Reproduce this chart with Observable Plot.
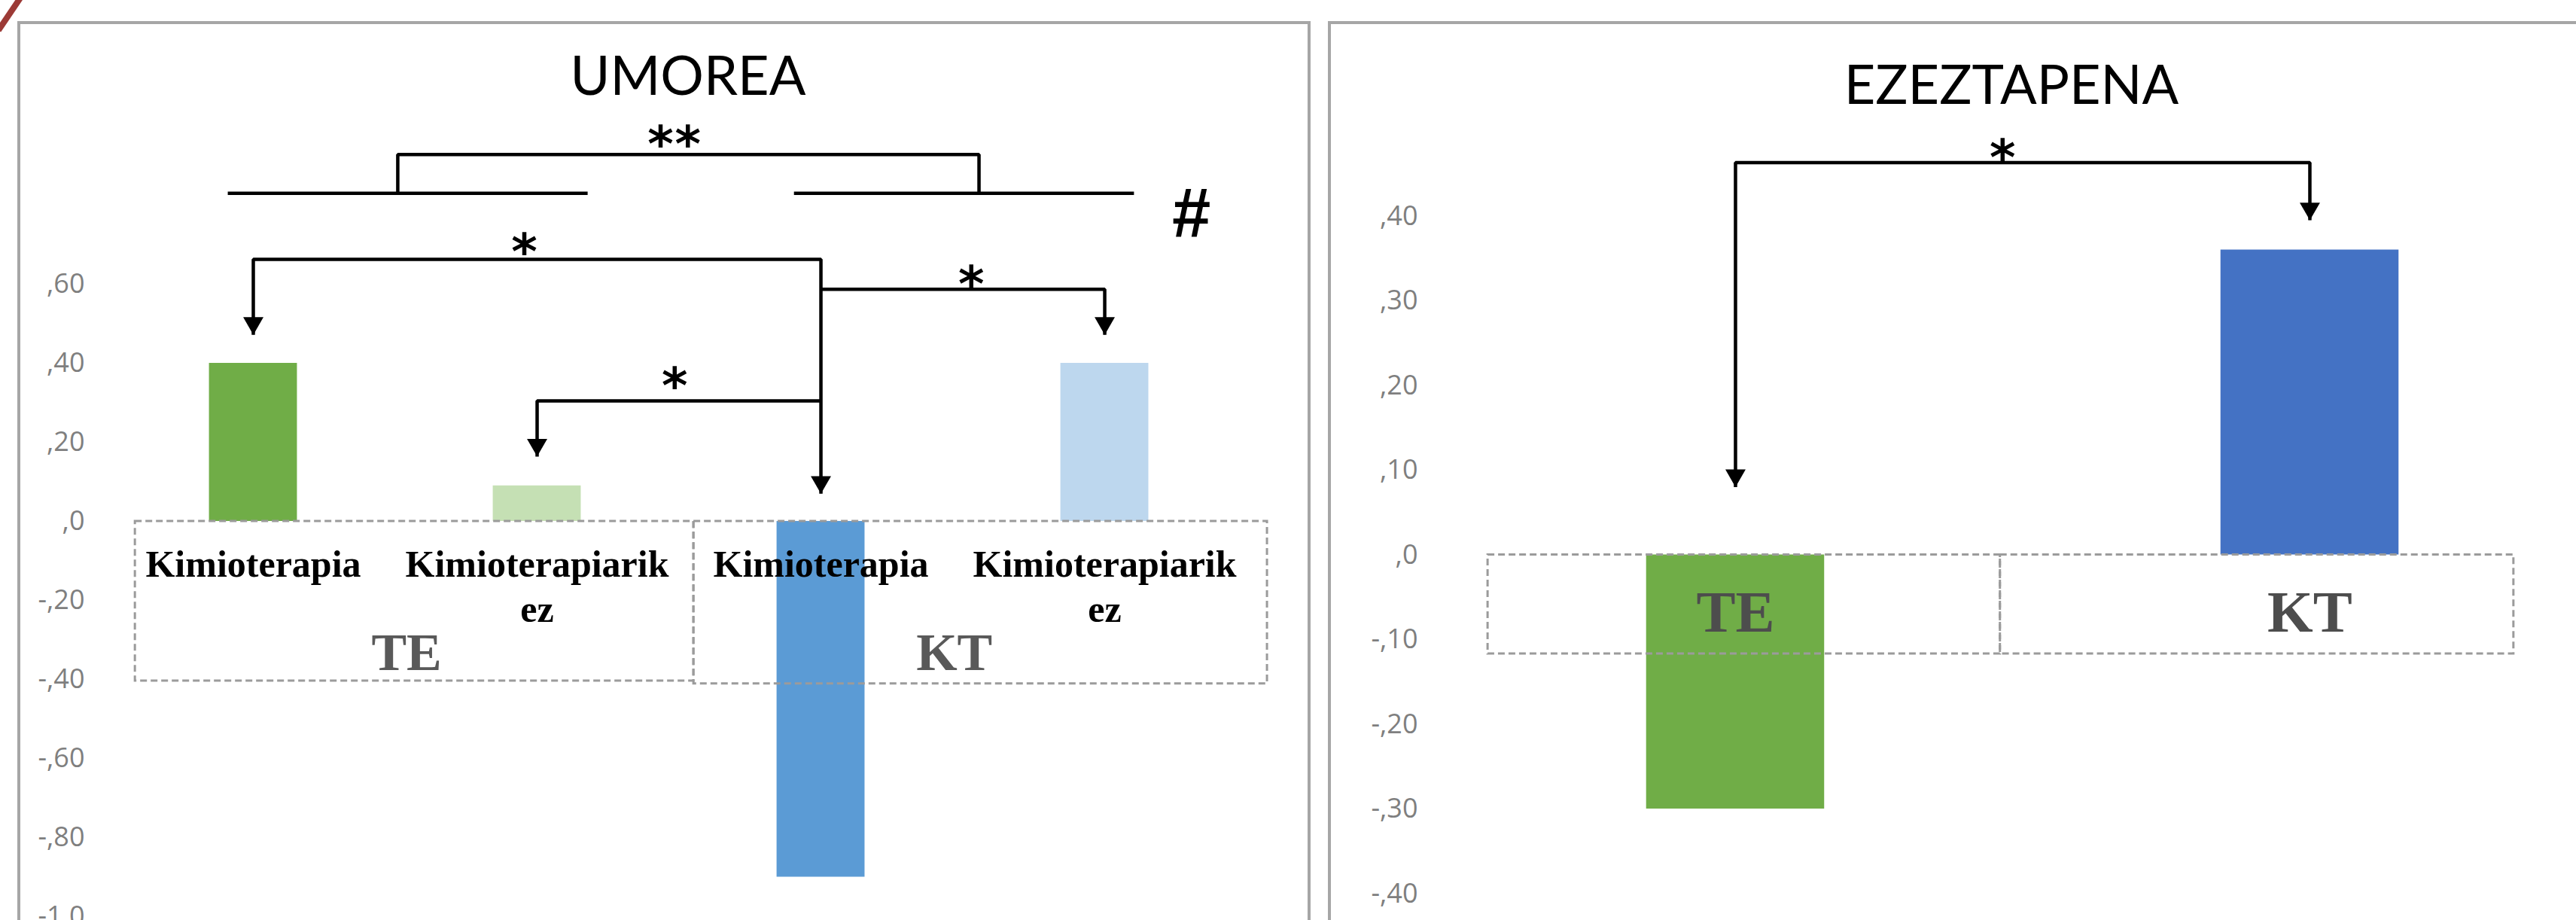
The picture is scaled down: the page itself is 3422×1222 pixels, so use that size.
<!DOCTYPE html>
<html><head><meta charset="utf-8">
<script src="https://cdn.jsdelivr.net/npm/d3@7"></script>
<script src="https://cdn.jsdelivr.net/npm/@observablehq/plot@0.6"></script>
<style>
html,body{margin:0;padding:0;background:#fff;}
#page{position:relative;width:3422px;height:1222px;overflow:hidden;background:#fff;}
.panel{position:absolute;box-sizing:border-box;border:4px solid #a6a6a6;background:#fff;}
.title{position:absolute;font-family:Lato,sans-serif;font-size:72px;line-height:72px;color:#000;white-space:nowrap;transform:translateX(-50%);}
.chart{position:absolute;}
#corner{position:absolute;left:-14px;top:14px;width:54px;height:8px;background:#9c3a36;transform:rotate(-56deg);}
</style></head>
<body><div id="page">
<div class="panel" style="left:23px;top:28px;width:1718px;height:1300px"></div>
<div class="panel" style="left:1764px;top:28px;width:1700px;height:1300px"></div>
<div id="corner"></div>
<div class="title" style="left:914px;top:62px">UMOREA</div>
<div class="title" style="left:2672px;top:74px">EZEZTAPENA</div>
<div class="chart" id="left" style="left:0;top:150px"></div>
<div class="chart" id="right" style="left:1740px;top:150px"></div>
</div>
<script>
// ---- data: UMOREA ----
const umoreaCategories = ["Kimioterapia", "Kimioterapiarik ez", "Kimioterapia", "Kimioterapiarik ez"];
const umoreaGroups = ["TE", "TE", "KT", "KT"];
const umoreaValues = [0.40, 0.09, -0.90, 0.40];
const umoreaColors = ["#70ad47", "#c5e0b4", "#5b9bd5", "#bdd7ee"];
const umoreaTicks = [0.6, 0.4, 0.2, 0, -0.2, -0.4, -0.6, -0.8, -1.0];

// ---- data: EZEZTAPENA ----
const ezCategories = ["TE", "KT"];
const ezValues = [-0.30, 0.36];
const ezColors = ["#70ad47", "#4472c4"];
const ezTicks = [0.4, 0.3, 0.2, 0.1, 0, -0.1, -0.2, -0.3, -0.4];

// ---- annotations (x in category index units, y in value units) ----
const umoreaBoxes = [
  {group: "TE", x1: 0.584, x2: 2.552, y1: 0, y2: -0.404},
  {group: "KT", x1: 2.552, x2: 4.573, y1: 0, y2: -0.411}
];
const umoreaGroupLabels = [{text: "TE", x: 1.54}, {text: "KT", x: 3.47}];
const umoreaPaths = [
  {id: "a1", pts: [[1, 0.472], [1, 0.663], [3, 0.663], [3, 0.070]]},
  {id: "a2", pts: [[3, 0.587], [4, 0.587], [4, 0.472]]},
  {id: "a3", pts: [[3, 0.305], [2, 0.305], [2, 0.164]]},
  {id: "b0", pts: [[1.509, 0.830], [1.509, 0.928], [3.557, 0.928], [3.557, 0.830]]},
  {id: "b1", pts: [[0.910, 0.830], [2.178, 0.830]]},
  {id: "b2", pts: [[2.905, 0.830], [4.103, 0.830]]}
];
const umoreaHeads = [[1, 0.472], [3, 0.070], [4, 0.472], [2, 0.164]];
const umoreaStars = [
  {t: "*", x: 1.955, y: 0.712}, {t: "*", x: 3.530, y: 0.630}, {t: "*", x: 2.485, y: 0.373},
  {t: "*", x: 2.435, y: 0.985}, {t: "*", x: 2.531, y: 0.985}
];
const umoreaHash = [{t: "#", x: 4.302, y: 0.785}];

const ezBoxes = [
  {group: "TE", x1: 0.569, x2: 1.461, y1: 0, y2: -0.117},
  {group: "KT", x1: 1.461, x2: 2.355, y1: 0, y2: -0.117}
];
const ezPaths = [{id: "e1", pts: [[1, 0.080], [1, 0.463], [2, 0.463], [2, 0.395]]}];
const ezHeads = [[1, 0.080], [2, 0.395]];
const ezStars = [{t: "*", x: 1.465, y: 0.483}];

// ---- helpers ----
const fmt = d => {
  if (Math.abs(d) < 1e-9) return ",0";
  const a = Math.abs(d);
  const s = a >= 1 ? a.toFixed(1).replace(".", ",") : "," + a.toFixed(2).slice(2);
  return (d < 0 ? "-" : "") + s;
};
const flat = paths => paths.flatMap(p => p.pts.map(([x, y]) => ({id: p.id, x, y})));
const headPts = hs => hs.map(([x, y]) => ({x, y}));
const BW = 0.155;
const serif = "'Liberation Serif', 'Times New Roman', serif";
const common = {
  marginTop: 0, marginBottom: 0, marginRight: 0,
  color: {type: "identity"},
  style: {background: "transparent", color: "#7f7f7f", fontFamily: "'Open Sans', sans-serif", fontSize: "36px", overflow: "visible"}
};
const annotationMarks = (paths, heads, stars) => [
  Plot.line(flat(paths), {x: "x", y: "y", z: "id", stroke: "#000", strokeWidth: 4.5, strokeLinejoin: "miter", strokeLinecap: "butt"}),
  Plot.dot(headPts(heads), {x: "x", y: "y", symbol: "triangle", r: 10, fill: "#000", stroke: "none", rotate: 180, dy: -15.6}),
  Plot.text(stars, {x: "x", y: "y", text: "t", fontSize: 66, fontWeight: "bold", fontFamily: "'DejaVu Sans', sans-serif", fill: "#000", dy: 17})
];

// ---- left chart ----
const leftData = umoreaCategories.map((c, i) => ({pos: i + 1, label: c, group: umoreaGroups[i], value: umoreaValues[i], color: umoreaColors[i]}));
const left = Plot.plot({
  ...common,
  width: 1740, height: 1072, marginLeft: 125,
  x: {domain: [0.4403, 4.724], axis: null},
  y: {domain: [-1.0095, 1.0324], ticks: umoreaTicks, tickFormat: fmt, tickSize: 0, tickPadding: 13, label: null},
  marks: [
    Plot.rect(leftData, {x1: d => d.pos - BW, x2: d => d.pos + BW, y1: 0, y2: "value", fill: "color"}),
    Plot.rect(umoreaBoxes, {x1: "x1", x2: "x2", y1: "y1", y2: "y2", fill: "none", stroke: "#9b9b9b", strokeWidth: 3, strokeDasharray: "9,5"}),
    Plot.text(leftData, {x: "pos", y: -0.058, text: d => d.label.replace(" ", "\n"), lineAnchor: "top", lineHeight: 1.2, fontSize: 50, fontWeight: "bold", fontFamily: serif, fill: "#000"}),
    Plot.text(umoreaGroupLabels, {x: "x", y: -0.282, text: "text", lineAnchor: "top", fontSize: 70, fontWeight: "bold", fontFamily: serif, fill: "#595959"}),
    ...annotationMarks(umoreaPaths, umoreaHeads, umoreaStars),
    Plot.text(umoreaHash, {x: "x", y: "y", text: "t", fontSize: 92, fontWeight: "bold", fontStyle: "italic", fontFamily: "'Liberation Sans', Arial, sans-serif", fill: "#000", dy: 4})
  ]
});
document.getElementById("left").appendChild(left);

// ---- right chart ----
const rightData = ezCategories.map((c, i) => ({pos: i + 1, label: c, value: ezValues[i], color: ezColors[i]}));
const right = Plot.plot({
  ...common,
  width: 1682, height: 1072, marginLeft: 156,
  x: {domain: [0.464, 2.464], axis: null},
  y: {domain: [-0.43156, 0.52133], ticks: ezTicks, tickFormat: fmt, tickSize: 0, tickPadding: 13, label: null},
  marks: [
    Plot.rect(rightData, {x1: d => d.pos - BW, x2: d => d.pos + BW, y1: 0, y2: "value", fill: "color"}),
    Plot.rect(ezBoxes, {x1: "x1", x2: "x2", y1: "y1", y2: "y2", fill: "none", stroke: "#9b9b9b", strokeWidth: 3, strokeDasharray: "9,5"}),
    Plot.text(rightData, {x: "pos", y: -0.041, text: "label", lineAnchor: "top", fontSize: 78, fontWeight: "bold", fontFamily: serif, fill: "#4d4d4d"}),
    ...annotationMarks(ezPaths, ezHeads, ezStars)
  ]
});
document.getElementById("right").appendChild(right);
</script>
</body></html>
